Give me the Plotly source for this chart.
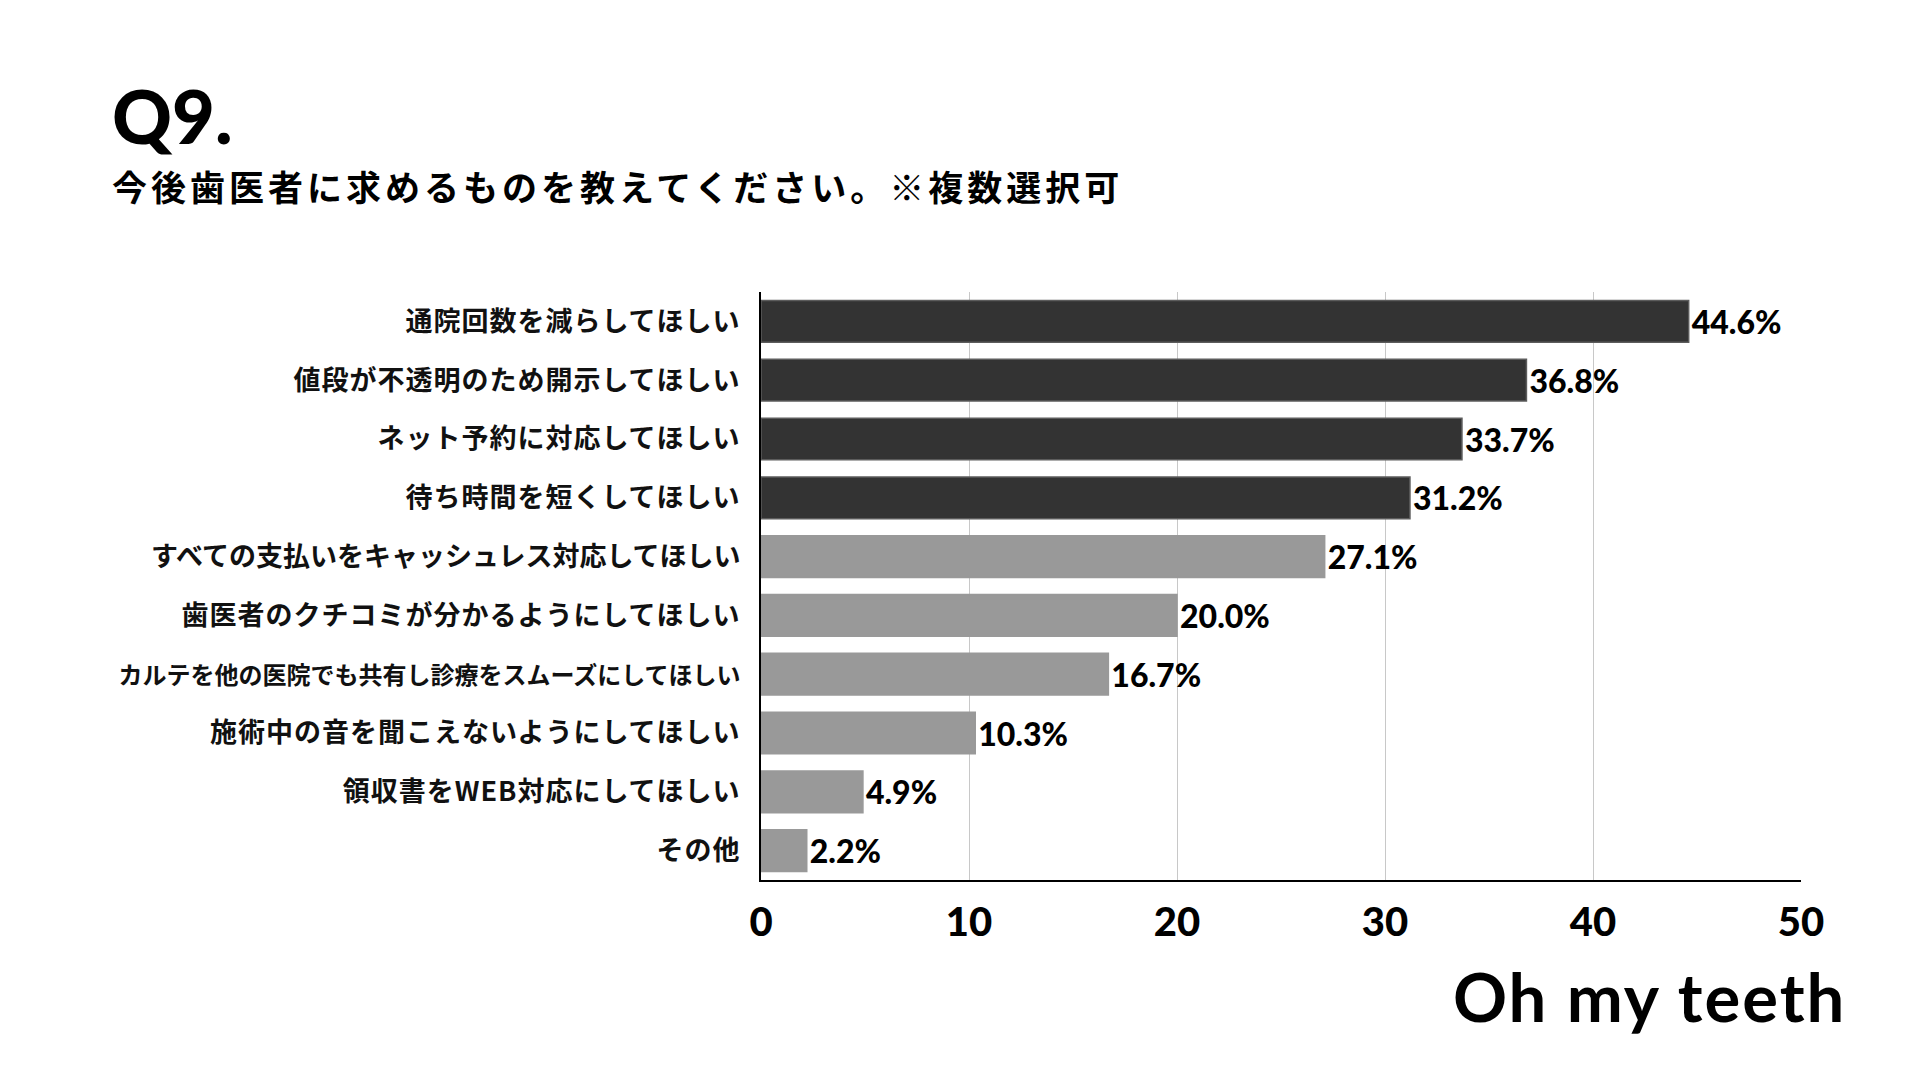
import plotly.graph_objects as go

categories = [
    "通院回数を減らしてほしい",
    "値段が不透明のため開示してほしい",
    "ネット予約に対応してほしい",
    "待ち時間を短くしてほしい",
    "すべての支払いをキャッシュレス対応してほしい",
    "歯医者のクチコミが分かるようにしてほしい",
    "カルテを他の医院でも共有し診療をスムーズにしてほしい",
    "施術中の音を聞こえないようにしてほしい",
    "領収書をWEB対応にしてほしい",
    "その他",
]
values = [44.6, 36.8, 33.7, 31.2, 27.1, 20.0, 16.7, 10.3, 4.9, 2.2]
x_ticks = [0, 10, 20, 30, 40, 50]

title_text = "Q9."
subtitle_text = "今後歯医者に求めるものを教えてください。※複数選択可"
logo_text = "Oh my teeth"

DARK = "#333333"
GRAY = "#999999"
colors = [DARK if i < 4 else GRAY for i in range(len(values))]
line_colors = ["#5c5c5c" if i < 4 else GRAY for i in range(len(values))]

JP = "Noto Sans CJK JP"
LAT = "Lato"

def fmt_label(c):
    if len(c) > 24:
        return f'<span style="font-size:24px">{c}</span>'
    if len(c) > 20:
        return c
    return f'<span style="letter-spacing:1px">{c}</span>'

ticktext = [fmt_label(c) for c in categories]

fig = go.Figure(
    go.Bar(
        x=values,
        y=categories,
        orientation="h",
        marker=dict(color=colors, line=dict(width=1.5, color=line_colors)),
        text=[f"{v:.1f}%" for v in values],
        textposition="outside",
        textfont=dict(family=LAT, size=32, color="#000000", weight=900),
        cliponaxis=False,
        constraintext="none",
        hoverinfo="skip",
    )
)

fig.update_layout(
    width=1920,
    height=1080,
    margin=dict(l=753, r=127, t=284, b=208),
    paper_bgcolor="white",
    plot_bgcolor="white",
    bargap=0.29,
    showlegend=False,
    xaxis=dict(
        range=[0, 50],
        tickvals=x_ticks,
        ticktext=[str(t) for t in x_ticks],
        showgrid=True,
        gridcolor="#c8c8c8",
        gridwidth=1,
        zeroline=False,
        showline=True,
        linecolor="#000000",
        linewidth=2,
        ticks="",
        ticklabelstandoff=6,
        tickfont=dict(family=LAT, size=40, color="#000000", weight=900),
        fixedrange=True,
    ),
    yaxis=dict(
        categoryorder="array",
        categoryarray=categories,
        autorange="reversed",
        tickvals=categories,
        ticktext=ticktext,
        showgrid=False,
        zeroline=False,
        showline=True,
        linecolor="#000000",
        linewidth=2,
        ticks="",
        ticklabelstandoff=13,
        tickfont=dict(family=JP, size=27, color="#111111", weight=700),
        fixedrange=True,
    ),
    annotations=[
        dict(
            text=title_text, xref="paper", yref="paper",
            x=(110 - 761) / 1040, y=(880 - 116) / 588,
            xanchor="left", yanchor="middle", showarrow=False,
            font=dict(family=LAT, size=74, color="#000000", weight=900),
        ),
        dict(
            text=f'<span style="letter-spacing:4px">{subtitle_text}</span>',
            xref="paper", yref="paper",
            x=(110 - 761) / 1040, y=(880 - 186) / 588,
            xanchor="left", yanchor="middle", showarrow=False,
            font=dict(family=JP, size=35, color="#000000", weight=700),
        ),
        dict(
            text=f'<span style="letter-spacing:2px">{logo_text}</span>',
            xref="paper", yref="paper",
            x=(1848 - 761) / 1040, y=(880 - 996) / 588,
            xanchor="right", yanchor="middle", showarrow=False,
            font=dict(family=LAT, size=67, color="#000000", weight=700),
        ),
    ],
)

fig.write_html("out.html")
